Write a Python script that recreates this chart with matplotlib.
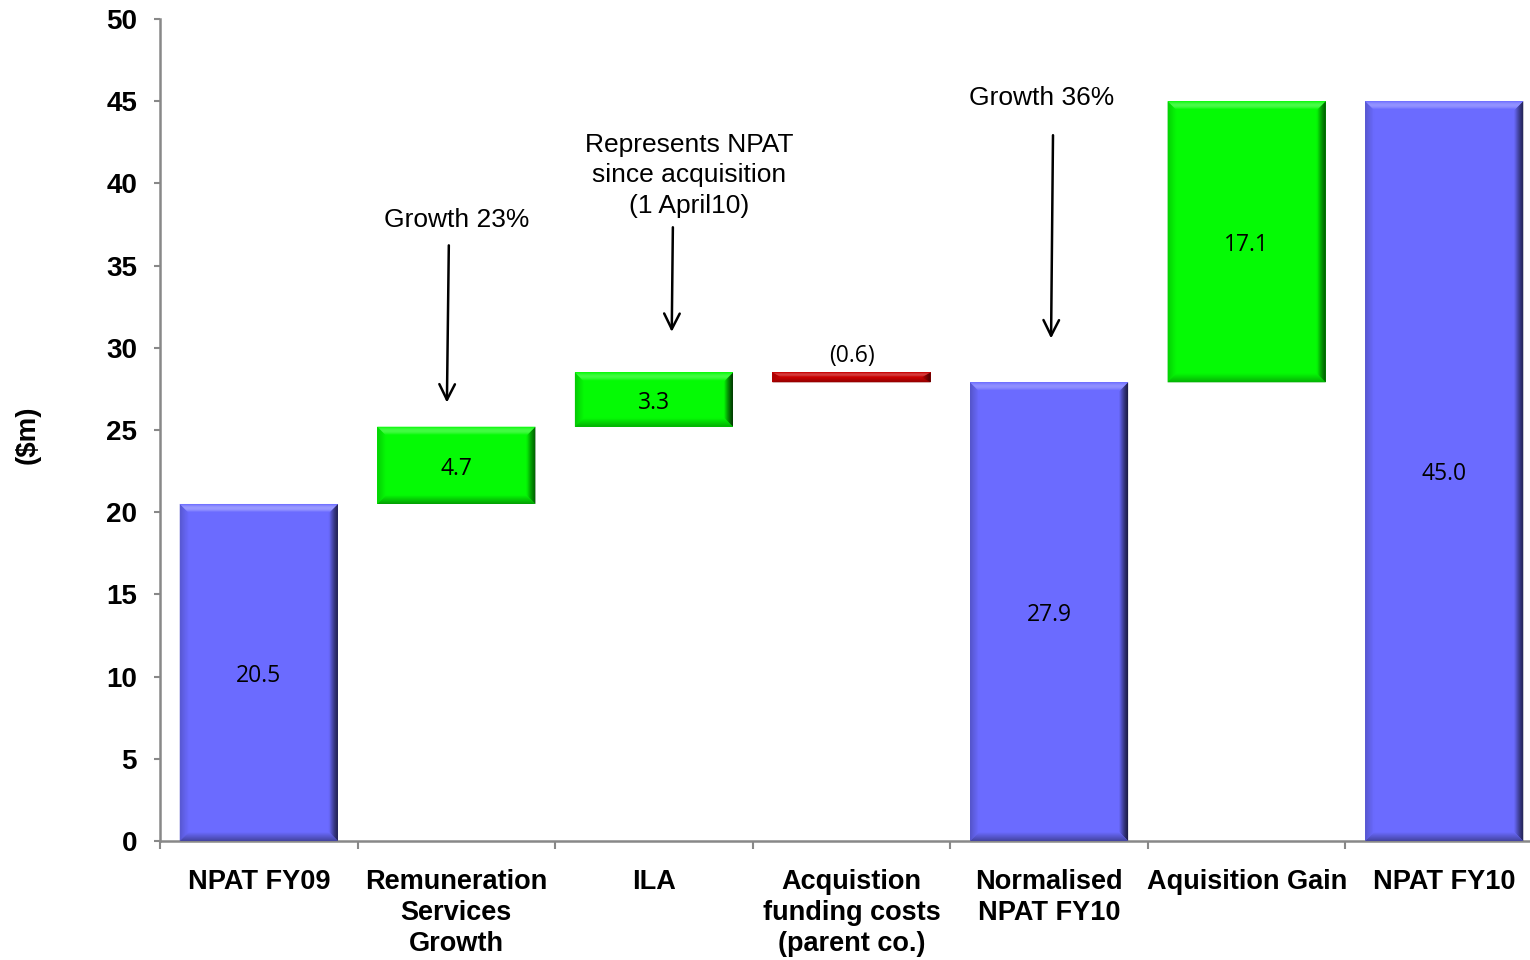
import matplotlib
matplotlib.use("Agg")
import matplotlib.pyplot as plt
from matplotlib.patches import Polygon
from matplotlib.colors import to_rgb
import numpy as np

# Waterfall data ($m)
categories = ["NPAT FY09", "Remuneration\nServices\nGrowth", "ILA",
              "Acquistion\nfunding costs\n(parent co.)", "Normalised\nNPAT FY10",
              "Aquisition Gain", "NPAT FY10"]
changes = [20.5, 4.7, 3.3, -0.6, 27.9, 17.1, 45.0]
is_total = [True, False, False, False, True, False, True]
value_labels = ["20.5", "4.7", "3.3", "(0.6)", "27.9", "17.1", "45.0"]
yticks = [0, 5, 10, 15, 20, 25, 30, 35, 40, 45, 50]

BLUE = "#6B6BFF"
GREEN = "#05FA05"
RED = "#C80000"

# Compute floating bar bases
bottoms, heights, colors = [], [], []
running = 0.0
for v, tot in zip(changes, is_total):
    if tot:
        bottoms.append(0.0)
        heights.append(v)
        running = v
        colors.append(BLUE)
    else:
        if v >= 0:
            bottoms.append(running)
            heights.append(v)
            colors.append(GREEN)
        else:
            bottoms.append(running + v)
            heights.append(-v)
            colors.append(RED)
        running += v

plt.rcParams["font.family"] = ["Liberation Sans", "DejaVu Sans"]
fig = plt.figure(figsize=(15.3, 9.6), dpi=100)
ax = fig.add_axes([160 / 1530, 1 - 841 / 960, 1383 / 1530, (841 - 19) / 960])

x = np.arange(len(categories))
bars = ax.bar(x, heights, bottom=bottoms, width=0.8, color=colors,
              edgecolor="none", zorder=2)

ax.set_xlim(-0.5, len(categories) - 0.5)
ax.set_ylim(0, 50)


def shade(c, f):
    r, g, b = to_rgb(c)
    if f >= 1:
        k = f - 1
        return (r + (1 - r) * k, g + (1 - g) * k, b + (1 - b) * k)
    return (r * f, g * f, b * f)


# Bevelled, gradient edges drawn around each bar
px_x = 1.0 / (1383 / 7)   # data units per pixel, horizontal
px_y = 50.0 / 822          # data units per pixel, vertical
NSTEP = 9
for rect, c in zip(bars, colors):
    x0, y0 = rect.get_x(), rect.get_y()
    w, h = rect.get_width(), rect.get_height()
    x1, y1 = x0 + w, y0 + h
    sx = px_x
    sy = min(px_y, h / 2 / NSTEP)
    for k in range(NSTEP):
        t = (k + 0.5) / NSTEP
        a, b = k, k + 1
        top = [(x0 + a * sx, y1 - a * sy), (x1 - a * sx, y1 - a * sy),
               (x1 - b * sx, y1 - b * sy), (x0 + b * sx, y1 - b * sy)]
        bottom = [(x0 + a * sx, y0 + a * sy), (x1 - a * sx, y0 + a * sy),
                  (x1 - b * sx, y0 + b * sy), (x0 + b * sx, y0 + b * sy)]
        left = [(x0 + a * sx, y0 + a * sy), (x0 + a * sx, y1 - a * sy),
                (x0 + b * sx, y1 - b * sy), (x0 + b * sx, y0 + b * sy)]
        right = [(x1 - a * sx, y0 + a * sy), (x1 - a * sx, y1 - a * sy),
                 (x1 - b * sx, y1 - b * sy), (x1 - b * sx, y0 + b * sy)]
        f_top = 1 + 0.32 * np.sin(np.pi * min(1.0, t * 1.1))
        f_left = 0.78 + 0.22 * t
        f_right = 0.2 + 0.8 * t ** 1.3
        f_bot = 0.62 + 0.38 * t
        ax.add_patch(Polygon(left, closed=True, color=shade(c, f_left), lw=0, zorder=3))
        ax.add_patch(Polygon(right, closed=True, color=shade(c, f_right), lw=0, zorder=3))
        ax.add_patch(Polygon(bottom, closed=True, color=shade(c, f_bot), lw=0, zorder=3))
        ax.add_patch(Polygon(top, closed=True, color=shade(c, f_top), lw=0, zorder=3))

# Value labels
for i, (b, h, lab) in enumerate(zip(bottoms, heights, value_labels)):
    if changes[i] < 0:
        ax.text(x[i], b + h + 0.25, lab, ha="center", va="bottom",
                fontsize=16.5, family=["Open Sans", "DejaVu Sans"], zorder=5)
    else:
        ax.text(x[i], b + h / 2 - 0.2, lab, ha="center", va="center",
                fontsize=16.5, family=["Open Sans", "DejaVu Sans"], zorder=5)

# Commentary with arrows
arrow_kw = dict(arrowstyle="->", lw=1.8, color="black", mutation_scale=28)
ax.annotate("", xy=(0.952, 26.5), xytext=(0.962, 36.4), arrowprops=arrow_kw)
ax.text(1.0, 37.8, "Growth 23%", ha="center", va="center", fontsize=19)
ax.annotate("", xy=(2.09, 30.8), xytext=(2.096, 37.5), arrowprops=arrow_kw)
ax.text(2.18, 40.5, "Represents NPAT\nsince acquisition\n(1 April10)", ha="center",
        va="center", fontsize=19, linespacing=1.35)
ax.annotate("", xy=(4.01, 30.4), xytext=(4.02, 43.1), arrowprops=arrow_kw)
ax.text(3.96, 45.2, "Growth 36%", ha="center", va="center", fontsize=19)

# Axes styling
for s in ("top", "right"):
    ax.spines[s].set_visible(False)
for s in ("left", "bottom"):
    ax.spines[s].set_color("#888888")
    ax.spines[s].set_linewidth(1.8)

ax.set_yticks(yticks)
ax.set_yticklabels([str(t) for t in yticks], fontsize=20, fontweight="bold")
ax.tick_params(axis="y", length=4.5, width=1.5, color="#888888", pad=12)

ax.set_xticks(x)
ax.set_xticklabels(categories, fontsize=19.5, fontweight="bold", linespacing=1.25)
ax.tick_params(axis="x", which="major", length=0, pad=20.5)
ax.set_xticks(np.arange(-0.5, len(categories), 1.0), minor=True)
ax.tick_params(axis="x", which="minor", length=5.5, width=1.5, color="#888888")

fig.text(28 / 1530, 1 - 435 / 960, "($m)", rotation=90, ha="center", va="center",
         fontsize=20, fontweight="bold")

fig.savefig("out.png", dpi=100)
